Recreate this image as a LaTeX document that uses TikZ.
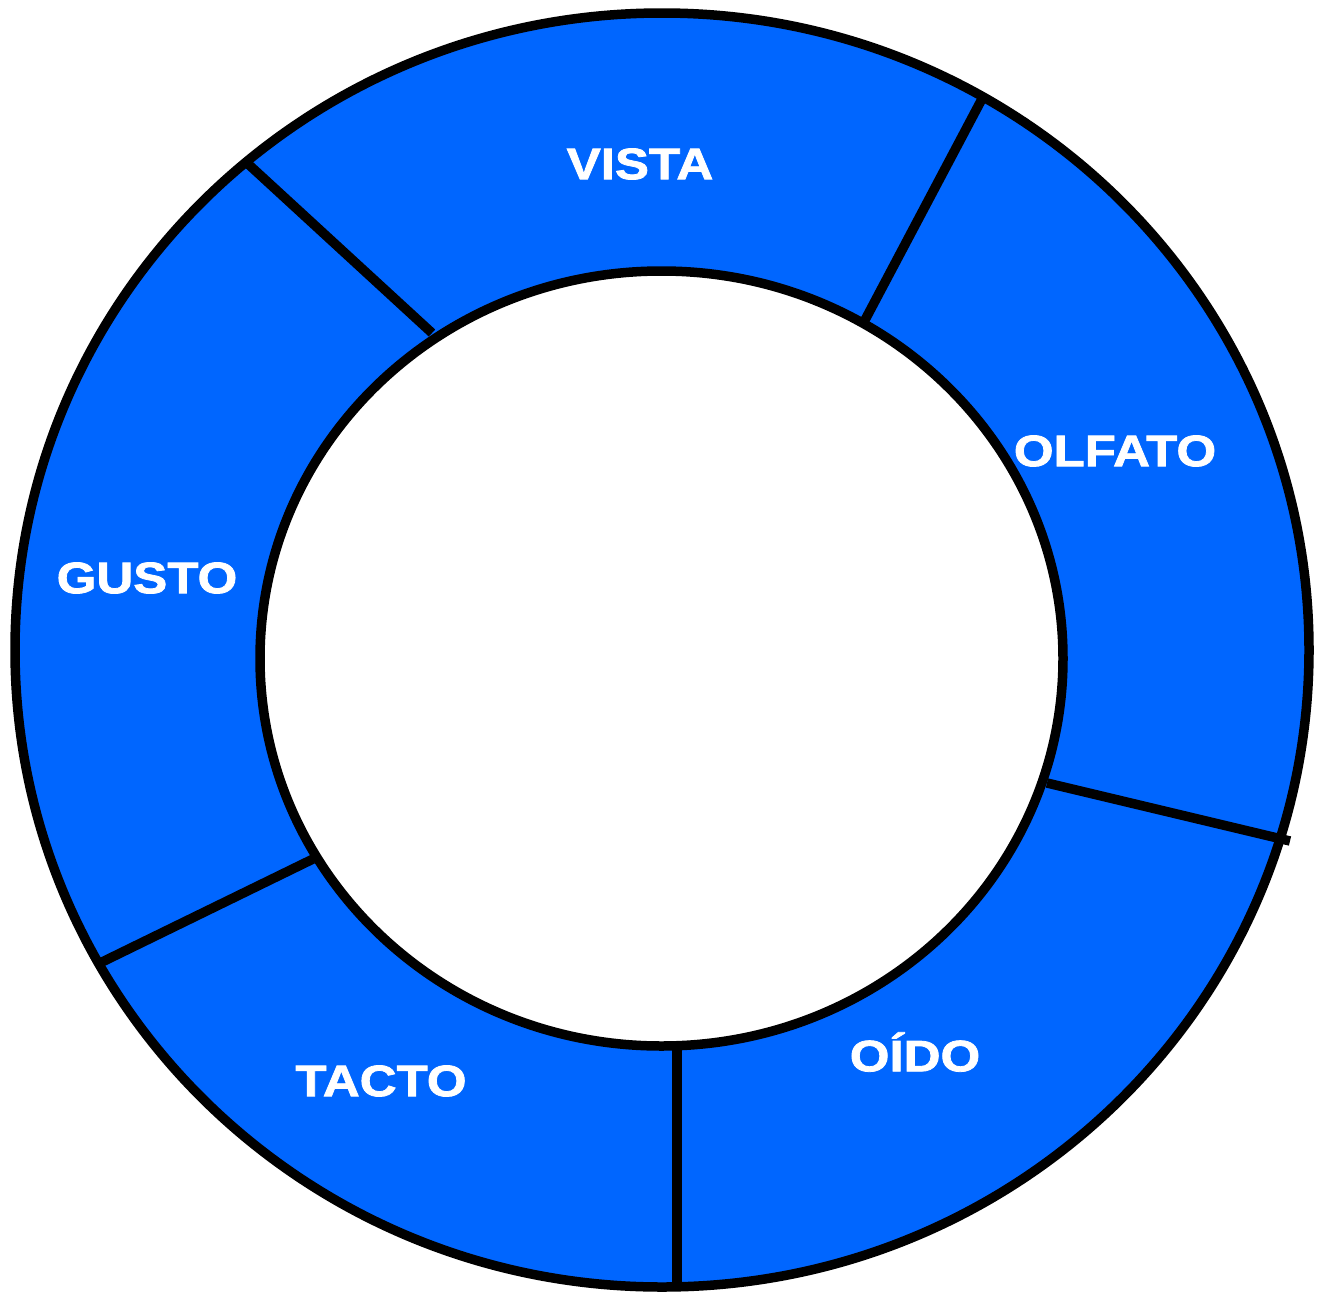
\documentclass[tikz,border=0pt]{standalone}
\usepackage{fontspec}
\setmainfont{Liberation Sans}
\newfontfamily\heavyfont[FakeStretch=1.16,FakeBold=1.8]{Liberation Sans Bold}
\definecolor{ringblue}{HTML}{0066FF}
\tikzset{
  ring/.style={fill=ringblue, even odd rule},
  edge/.style={draw=black, line width=9.5pt},
  lbl/.style={text=white, font=\heavyfont\fontsize{44}{44}\selectfont, inner sep=0pt}
}
\begin{document}
\begin{tikzpicture}[x=1pt,y=-1pt]
\useasboundingbox (0,0) rectangle (1317,1293);
\fill[ring] (662,650) ellipse [x radius=647, y radius=637] (661.5,658.5) ellipse [x radius=401.5, y radius=387.5];
\coordinate (vo1) at (983,97);  \coordinate (vo2) at (865,320);
\coordinate (vg1) at (247,163); \coordinate (vg2) at (432,333);
\coordinate (gt1) at (100,963); \coordinate (gt2) at (313,859);
\coordinate (to1) at (677,1050); \coordinate (to2) at (677,1287);
\coordinate (oo1) at (1047,783); \coordinate (oo2) at (1290,841);
\draw[edge] (vo1) -- (vo2);
\draw[edge] (vg1) -- (vg2);
\draw[edge] (gt1) -- (gt2);
\draw[edge] (to1) -- (to2);
\draw[edge] (oo1) -- (oo2);
\draw[edge] (662,650) ellipse [x radius=647, y radius=637];
\draw[edge] (661.5,658.5) ellipse [x radius=401.5, y radius=387.5];
\node[lbl] (vista) at (640,164) {VISTA};
\node[lbl] (olfato) at (1115,451) {OLFATO};
\node[lbl] (gusto) at (147,578) {GUSTO};
\node[lbl] (tacto) at (381,1081) {TACTO};
\node[lbl] (oido) at (915,1052) {OÍDO};
\end{tikzpicture}
\end{document}
